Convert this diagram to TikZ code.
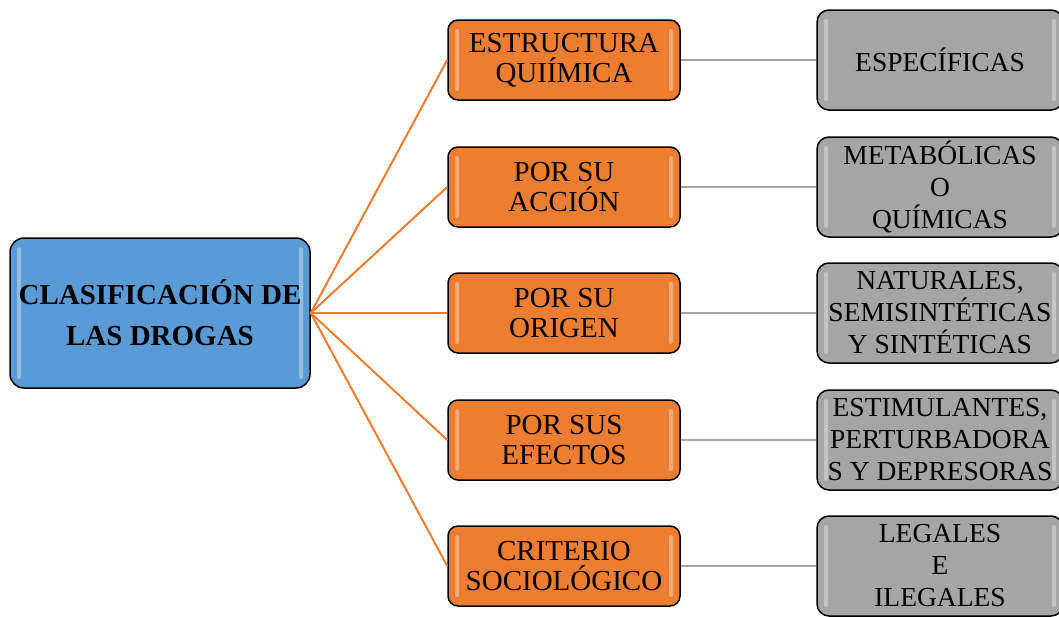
\documentclass[tikz,border=0pt]{standalone}
\usepackage{fontspec}
\setmainfont{Liberation Serif}
\usepackage{xcolor}
\usepackage{tikz}
\usetikzlibrary{positioning, calc}

\definecolor{azul}{HTML}{5B9BD5}
\definecolor{naranja}{HTML}{ED7D31}
\definecolor{gris}{HTML}{A5A5A5}

\tikzset{
  brillo/.style={path picture={
      \fill[white,opacity=.35,rounded corners=2pt]
        ([xshift=7pt,yshift=-9pt]path picture bounding box.north west) rectangle
        ([xshift=11pt,yshift=9pt]path picture bounding box.south west);
      \fill[white,opacity=.35,rounded corners=2pt]
        ([xshift=-7pt,yshift=-9pt]path picture bounding box.north east) rectangle
        ([xshift=-11pt,yshift=9pt]path picture bounding box.south east);}},
  raiz/.style={draw=black, line width=1.5pt, fill=azul, rounded corners=14pt, brillo,
    minimum width=300pt, minimum height=150pt, align=center, inner sep=0pt,
    font=\fontsize{29}{41}\selectfont\bfseries},
  tipo/.style={draw=black, line width=1.5pt, fill=naranja, rounded corners=10pt, brillo,
    minimum width=232pt, minimum height=80pt, align=center, inner sep=0pt,
    font=\fontsize{29}{30}\selectfont},
  clase/.style={draw=black, line width=1.5pt, fill=gris, rounded corners=12pt, brillo,
    minimum width=246pt, minimum height=100pt, align=center, inner sep=0pt,
    font=\fontsize{27.5}{32}\selectfont},
  rama/.style={draw=naranja, line width=2pt},
  enlace/.style={draw=gris, line width=2pt}
}

\begin{document}
\begin{tikzpicture}[x=1pt, y=-1pt]
  \useasboundingbox (0,0) rectangle (1059,616);

  \node[raiz] (drogas) at (160,313) {CLASIFICACIÓN DE\\LAS DROGAS};

  % criterios
  \node[tipo] (quim) at (564,60) {ESTRUCTURA\\QUIÍMICA};
  \node[tipo] (accion) at (564,187) {POR SU\\ACCIÓN};
  \node[tipo] (origen) at (564,313) {POR SU\\ORIGEN};
  \node[tipo] (efectos) at (564,440) {POR SUS\\EFECTOS};
  \node[tipo] (socio) at (564,566) {CRITERIO\\SOCIOLÓGICO};

  % clases
  \node[clase] (espec) at (940,60) {ESPECÍFICAS};
  \node[clase] (metab) at (940,187) {METABÓLICAS\\O\\QUÍMICAS};
  \node[clase] (natur) at (940,313) {NATURALES,\\SEMISINTÉTICAS\\Y SINTÉTICAS};
  \node[clase] (estim) at (940,440) {ESTIMULANTES,\\PERTURBADORA\\S Y DEPRESORAS};
  \node[clase] (legal) at (940,566) {LEGALES\\E\\ILEGALES};

  \draw[rama] (drogas.east) -- (quim.west);
  \draw[rama] (drogas.east) -- (accion.west);
  \draw[rama] (drogas.east) -- (origen.west);
  \draw[rama] (drogas.east) -- (efectos.west);
  \draw[rama] (drogas.east) -- (socio.west);

  \draw[enlace] (quim.east) -- (espec.west);
  \draw[enlace] (accion.east) -- (metab.west);
  \draw[enlace] (origen.east) -- (natur.west);
  \draw[enlace] (efectos.east) -- (estim.west);
  \draw[enlace] (socio.east) -- (legal.west);
\end{tikzpicture}
\end{document}
